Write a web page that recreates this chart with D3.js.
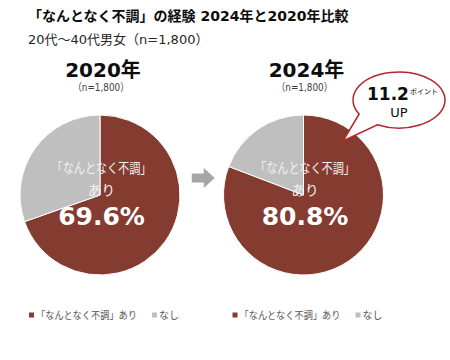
<!DOCTYPE html>
<html>
<head>
<meta charset="utf-8">
<script src="https://cdn.jsdelivr.net/npm/d3@7"></script>
<style>
  html, body { margin: 0; padding: 0; background: #fff; }
  svg { display: block; font-family: "DejaVu Sans", "Noto Sans CJK JP", sans-serif; }
</style>
</head>
<body>
<svg id="chart" width="450" height="360"></svg>
<script>
// data
const titleText = "「なんとなく不調」の経験 2024年と2020年比較";
const subtitleText = "20代～40代男女（n=1,800）";
const years = ["2020年", "2024年"];
const sampleLabels = ["（n=1,800）", "（n=1,800）"];
const categories = ["「なんとなく不調」あり", "なし"];
const ariValues = [69.6, 80.8];
const nashiValues = [30.4, 19.2];
const diffValue = "11.2";
const diffUnit = "ポイント";
const diffWord = "UP";

const colors = d3.scaleOrdinal().domain(categories).range(["#843c30", "#bfbfbf"]);

const svg = d3.select("#chart");

// title block
svg.append("text").attr("x", 28).attr("y", 21)
  .attr("font-size", 14).attr("font-weight", "bold").attr("fill", "#0d0d0d")
  .text(titleText);
svg.append("text").attr("x", 28).attr("y", 44)
  .attr("font-size", 13).attr("fill", "#262626")
  .text(subtitleText);

// layout of the two pies
const cx = d3.scalePoint().domain(years).range([100, 303.5]);
const cy = 195, r = 80;

const pie = d3.pie().sort(null).value(d => d.value);
const arc = d3.arc().innerRadius(0).outerRadius(r);

years.forEach((yr, i) => {
  const data = [
    { cat: categories[0], value: ariValues[i] },
    { cat: categories[1], value: nashiValues[i] }
  ];
  const g = svg.append("g").attr("transform", `translate(${cx(yr)},${cy})`);

  g.selectAll("path.slice").data(pie(data)).join("path")
    .attr("class", "slice")
    .attr("d", arc)
    .attr("fill", d => colors(d.data.cat))
    .attr("stroke", "#fff").attr("stroke-width", 1);

  // year heading
  g.append("text").attr("x", 3).attr("y", 77 - cy)
    .attr("text-anchor", "middle").attr("font-size", 20).attr("font-weight", "bold")
    .attr("fill", "#0d0d0d").text(yr);
  g.append("text").attr("x", 1).attr("y", 91 - cy)
    .attr("text-anchor", "middle").attr("font-size", 10.5).attr("fill", "#404040")
    .attr("textLength", 56).attr("lengthAdjust", "spacingAndGlyphs")
    .text(sampleLabels[i]);

  // inner labels
  g.append("text").attr("x", 1.5).attr("y", -22)
    .attr("text-anchor", "middle").attr("font-size", 13.5).attr("fill", "#f2f2f2")
    .attr("textLength", 100).attr("lengthAdjust", "spacingAndGlyphs")
    .text("「なんとなく不調」");
  g.append("text").attr("x", 1.5).attr("y", 0)
    .attr("text-anchor", "middle").attr("font-size", 13.5).attr("fill", "#f2f2f2")
    .text("あり");
  g.append("text").attr("x", 1.5).attr("y", 30)
    .attr("text-anchor", "middle").attr("font-size", 25).attr("font-weight", "bold")
    .attr("fill", "#fff").text(ariValues[i].toFixed(1) + "%");

  // legend under each pie
  const lg = g.append("g").attr("transform", `translate(-71,${315 - cy})`);
  const items = [
    { cat: categories[0], x: 0 },
    { cat: categories[1], x: 123 }
  ];
  items.forEach(it => {
    lg.append("rect").attr("x", it.x).attr("y", -2.5).attr("width", 5).attr("height", 5)
      .attr("fill", colors(it.cat));
    lg.append("text").attr("x", it.x + 7).attr("y", 4)
      .attr("font-size", 10.5).attr("fill", "#595959")
      .attr("textLength", it.cat.length > 3 ? 101 : 20).attr("lengthAdjust", "spacingAndGlyphs")
      .text(it.cat);
  });
});

// arrow between pies
const mx = (cx(years[0]) + cx(years[1])) / 2 + 1, my = cy - 17;
svg.append("path")
  .attr("d", `M${mx - 11},${my - 4.5} H${mx + 1} V${my - 10} L${mx + 12},${my} L${mx + 1},${my + 10} V${my + 4.5} H${mx - 11} Z`)
  .attr("fill", "#a6a6a6");

// callout bubble
const bx = 399, by = 100, rx = 46, ry = 28;
const pt = a => [bx + rx * Math.cos(a * Math.PI / 180), by + ry * Math.sin(a * Math.PI / 180)];
const p1 = pt(118), p2 = pt(150), tip = [343, 141];
svg.append("path")
  .attr("d", `M${p1[0]},${p1[1]} A${rx},${ry} 0 1 0 ${p2[0]},${p2[1]} L${tip[0]},${tip[1]} Z`)
  .attr("fill", "#fff").attr("stroke", "#b3262c").attr("stroke-width", 1.5);

const t = svg.append("text").attr("x", 367).attr("y", 100).attr("fill", "#0d0d0d");
t.append("tspan").attr("font-size", 17).attr("font-weight", "bold").text(diffValue);
t.append("tspan").attr("dx", 1).attr("dy", -6).attr("font-size", 7).text(diffUnit);
svg.append("text").attr("x", bx).attr("y", 117)
  .attr("text-anchor", "middle").attr("font-size", 13).attr("fill", "#0d0d0d")
  .text(diffWord);
</script>
</body>
</html>
